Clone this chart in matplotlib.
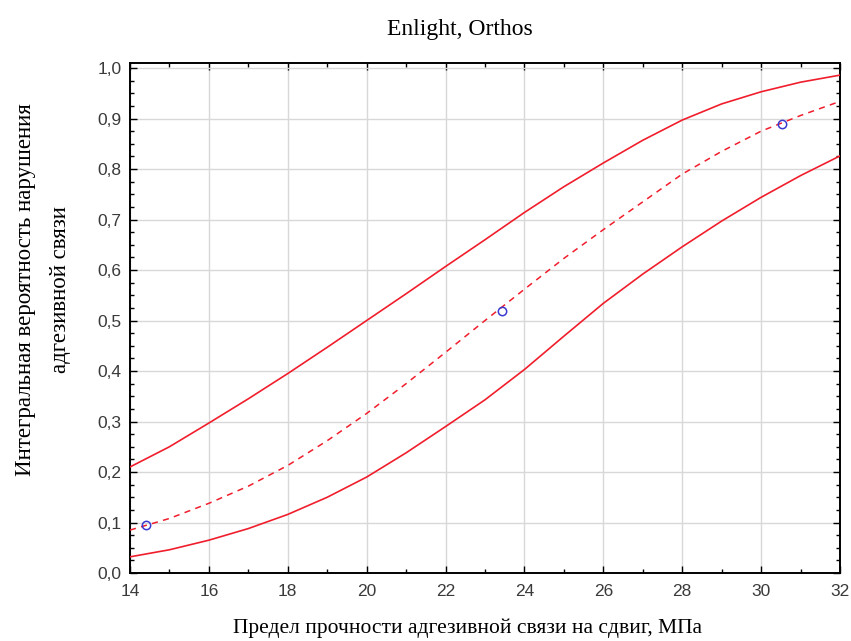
import matplotlib
matplotlib.use("Agg")
import matplotlib.pyplot as plt
from matplotlib.ticker import MultipleLocator, FuncFormatter

# Data
x = [14, 15, 16, 17, 18, 19, 20, 21, 22, 23, 24, 25, 26, 27, 28, 29, 30, 31, 32]
upper = [0.21, 0.25, 0.297, 0.345, 0.395, 0.447, 0.50, 0.553, 0.607, 0.66, 0.714,
         0.765, 0.812, 0.857, 0.897, 0.929, 0.953, 0.972, 0.986]
middle = [0.085, 0.108, 0.138, 0.172, 0.213, 0.262, 0.316, 0.375, 0.437, 0.50, 0.562,
          0.623, 0.68, 0.735, 0.79, 0.835, 0.875, 0.906, 0.934]
lower = [0.032, 0.046, 0.065, 0.088, 0.116, 0.15, 0.19, 0.238, 0.29, 0.343, 0.403,
         0.469, 0.534, 0.592, 0.646, 0.697, 0.744, 0.787, 0.826]
obs_x = [14.4, 23.42, 30.54]
obs_y = [0.095, 0.519, 0.89]

title = "Enlight, Orthos"
xlabel = "Предел прочности адгезивной связи на сдвиг, МПа"
ylabel = "Интегральная вероятность нарушения\nадгезивной связи"

fig = plt.figure(figsize=(8.51, 6.41), dpi=100)
ax = fig.add_axes([130/851, 1-573/641, 710/851, 510/641])

red = "#f01e2c"
ax.plot(x, upper, color=red, lw=1.2, zorder=3)
ax.plot(x, lower, color=red, lw=1.2, zorder=3)
ax.plot(x, middle, color=red, lw=1.1, linestyle=(0, (4, 3.5)), zorder=3)
ax.plot(obs_x, obs_y, linestyle="none", marker="o", markersize=6,
        markerfacecolor="none", markeredgecolor="#3a3ad0", markeredgewidth=1.1, zorder=4)

ax.set_xlim(14, 32)
ax.set_ylim(0, 1.01)
ax.xaxis.set_major_locator(MultipleLocator(2))
ax.xaxis.set_minor_locator(MultipleLocator(1))
ax.yaxis.set_major_locator(MultipleLocator(0.1))
ax.yaxis.set_minor_locator(MultipleLocator(0.025))
ax.yaxis.set_major_formatter(FuncFormatter(lambda v, p: f"{v:.1f}".replace(".", ",")))
ax.xaxis.set_major_formatter(FuncFormatter(lambda v, p: f"{v:.0f}"))

ax.grid(True, which="major", color="#d8d8d8", lw=1.0, zorder=0)
ax.tick_params(which="both", direction="in", top=True, right=True, color="black")
ax.tick_params(which="major", length=5, width=1, labelsize=12.5, labelcolor="#3a3a3a")
ax.tick_params(axis="x", which="major", pad=8)
ax.tick_params(axis="y", which="major", pad=6)
ax.tick_params(which="minor", length=3, width=1)
for lab in ax.get_xticklabels() + ax.get_yticklabels():
    lab.set_family("Liberation Sans")
for s in ax.spines.values():
    s.set_linewidth(1.4)
    s.set_color("black")

serif = "Liberation Serif"
fig.text(460/851, 1-29/641, title, ha="center", va="center", family=serif, fontsize=17)
ax.set_xlabel(xlabel, family=serif, fontsize=15.5)
ax.xaxis.set_label_coords(0.475, -0.108)
ax.xaxis.label.set_va("center")
ax.set_ylabel(ylabel, family=serif, fontsize=16.5, linespacing=1.9, va="center", ha="center")
ax.yaxis.set_label_coords((43-130)/710, 0.555)

fig.savefig("out.png", dpi=100)
